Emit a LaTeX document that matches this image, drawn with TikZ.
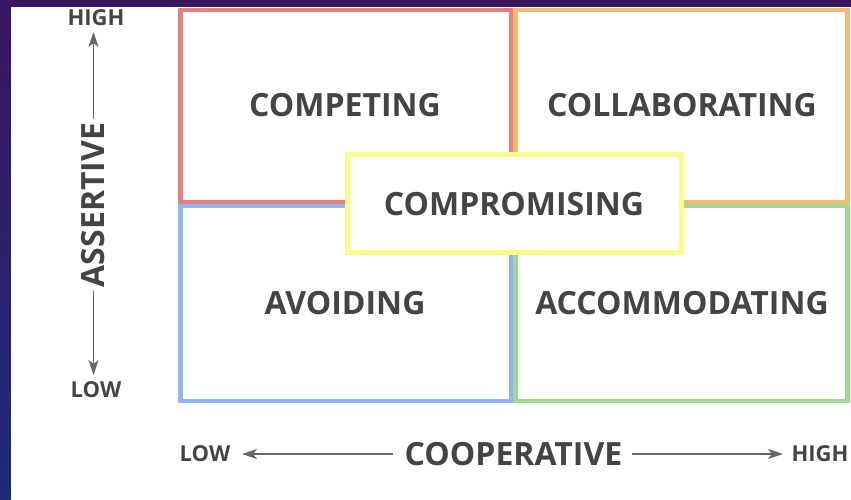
\documentclass[tikz,border=0pt]{standalone}
\usepackage{fontspec}
\setmainfont{Open Sans}
\usetikzlibrary{arrows.meta}
\definecolor{txt}{HTML}{444444}
\definecolor{arr}{HTML}{666666}
\definecolor{cred}{HTML}{E8817C}
\definecolor{corange}{HTML}{F0B96E}
\definecolor{cblue}{HTML}{8FB5F0}
\definecolor{cgreen}{HTML}{9FD890}
\definecolor{cyellow}{HTML}{FBFB8A}
\definecolor{bgtop}{HTML}{3A1560}
\definecolor{bgbot}{HTML}{1C2A78}
\begin{document}
\begin{tikzpicture}[x=1pt,y=-1pt,
  quad/.style={line width=4.5pt},
  big/.style={text=txt,font=\fontsize{32}{36}\selectfont\bfseries,inner sep=0pt},
  small/.style={text=txt,font=\fontsize{22}{26}\selectfont\bfseries,inner sep=0pt},
  axis/.style={draw=arr,line width=1.8pt},
  tip/.style={-{Stealth[length=15pt,width=10pt,inset=4pt]}}]
\useasboundingbox (0,0) rectangle (851,499);
\shade[top color=bgtop,bottom color=bgbot] (0,0) rectangle (851,499);
\fill[white] (11,7) rectangle (860,510);
% quadrants
\draw[quad,draw=cred] (180.5,10) rectangle (511,202);
\draw[quad,draw=corange] (515.5,10) rectangle (847.5,202);
\draw[quad,draw=cblue] (180.5,206) rectangle (511,401);
\draw[quad,draw=cgreen] (515.5,206) rectangle (847.5,401);
\filldraw[quad,draw=cyellow,fill=white] (347.5,154.5) rectangle (681.5,252.5);
\node[big] (competing) at (345,105) {COMPETING};
\node[big] (collab) at (682,105) {COLLABORATING};
\node[big] (avoid) at (345,303) {AVOIDING};
\node[big] (accom) at (682,303) {ACCOMMODATING};
\node[big] (comprom) at (514,204) {COMPROMISING};
% vertical axis
\node[small] (vhigh) at (96,18) {HIGH};
\node[small] (vlow) at (96,390) {LOW};
\node[big,rotate=90] (assert) at (93.5,205) {ASSERTIVE};
\coordinate (vtop) at (93.5,32);
\coordinate (vbot) at (93.5,375);
\coordinate (vtopstart) at (93.5,119);
\coordinate (vbotstart) at (93.5,291);
\draw[axis,tip] (vtopstart) -- (vtop);
\draw[axis,tip] (vbotstart) -- (vbot);
% horizontal axis
\node[small] (hlow) at (205,454) {LOW};
\node[big] (coop) at (513.5,454) {COOPERATIVE};
\node[small] (hhigh) at (820,454) {HIGH};
\coordinate (hleft) at (242,454);
\coordinate (hright) at (783,454);
\coordinate (hleftstart) at (393,454);
\coordinate (hrightstart) at (632,454);
\draw[axis,tip] (hleftstart) -- (hleft);
\draw[axis,tip] (hrightstart) -- (hright);
\end{tikzpicture}
\end{document}
